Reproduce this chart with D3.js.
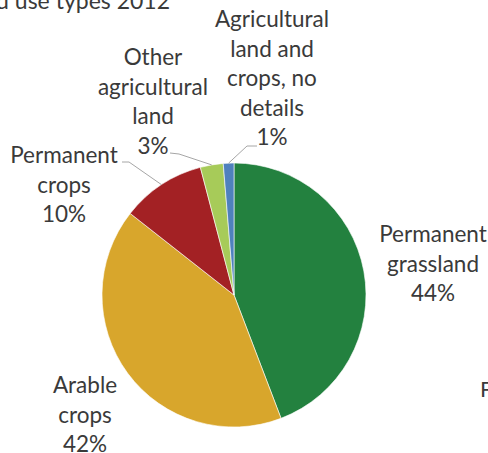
<!DOCTYPE html>
<html>
<head>
<meta charset="utf-8">
<script src="https://cdn.jsdelivr.net/npm/d3@7"></script>
<style>
  body { margin: 0; background: #fff; }
  svg { display: block; }
</style>
</head>
<body>
<svg width="488" height="453"></svg>
<script>
// data (percent of agricultural land)
var categories = ["Permanent grassland", "Arable crops", "Permanent crops",
                  "Other agricultural land", "Agricultural land and crops, no details"];
var values = [44.2, 41.4, 10.3, 2.8, 1.3];
var pctLabels = ["44%", "42%", "10%", "3%", "1%"];
var labelLines = [
  ["Permanent", "grassland"],
  ["Arable", "crops"],
  ["Permanent", "crops"],
  ["Other", "agricultural", "land"],
  ["Agricultural", "land and", "crops, no", "details"]
];
var colors = ["#23813f", "#d8a62c", "#a32124", "#a7cb59", "#4f81bd"];

// where each label block sits (x centre, first baseline) and where its leader starts
var labelLayout = [
  { x: 433, y: 242, leader: null },
  { x: 85, y: 393, leader: null },
  { x: 64, y: 163, leader: [[122, 162], [129, 162]] },
  { x: 153, y: 65, leader: [[170, 153], [179, 154]] },
  { x: 272, y: 27, leader: [[257, 146], [247, 146]] }
];

var svg = d3.select("svg");
var cx = 234, cy = 295, r = 132, lineH = 29.5;
var font = "Lato, 'Open Sans', sans-serif";

// title, cut off by the left edge like the reference
svg.append("text")
  .attr("x", 170)
  .attr("y", 9)
  .attr("text-anchor", "end")
  .style("font-family", font)
  .style("font-size", "23px")
  .style("fill", "#3a3a3a")
  .text("Agricultural land use types 2012");

// stray letter of neighbouring text at right edge
svg.append("text")
  .attr("x", 480)
  .attr("y", 397)
  .style("font-family", font)
  .style("font-size", "22px")
  .style("fill", "#3a3a3a")
  .text("F");

var pie = d3.pie().sort(null).value(function (d) { return d; });
var arcs = pie(values);
var arc = d3.arc().innerRadius(0).outerRadius(r);
var edge = d3.arc().innerRadius(r).outerRadius(r);

var g = svg.append("g").attr("transform", "translate(" + cx + "," + cy + ")");

g.selectAll("path.slice")
  .data(arcs)
  .enter()
  .append("path")
  .attr("class", "slice")
  .attr("d", arc)
  .style("fill", function (d, i) { return colors[i]; })
  .style("stroke", "#fff")
  .style("stroke-width", 0.6);

// leader lines
arcs.forEach(function (d, i) {
  var lay = labelLayout[i];
  if (!lay.leader) return;
  var end = edge.centroid(d);
  var pts = lay.leader.map(function (p) { return [p[0], p[1]]; });
  pts.push([end[0] + cx, end[1] + cy]);
  svg.append("path")
    .attr("d", d3.line()(pts))
    .style("fill", "none")
    .style("stroke", "#a6a6a6")
    .style("stroke-width", 1);
});

// labels
categories.forEach(function (c, i) {
  var lay = labelLayout[i];
  var lines = labelLines[i].concat([pctLabels[i]]);
  var t = svg.append("text")
    .attr("text-anchor", "middle")
    .style("font-family", font)
    .style("font-size", "22.5px")
    .style("fill", "#3a3a3a");
  lines.forEach(function (s, k) {
    t.append("tspan")
      .attr("x", lay.x)
      .attr("y", lay.y + k * lineH)
      .text(s);
  });
});
</script>
</body>
</html>
